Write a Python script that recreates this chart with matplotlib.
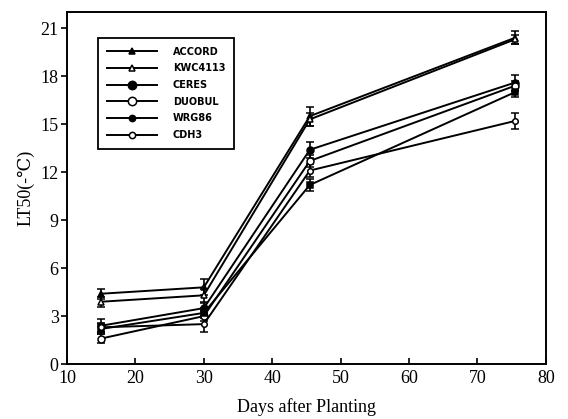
import matplotlib
matplotlib.use('Agg')
import matplotlib.pyplot as plt
from matplotlib.lines import Line2D

# days after planting
days = [15, 30, 45.5, 75.5]

# LT50 values per cultivar
accord = [4.4, 4.8, 15.5, 20.4]
kwc4113 = [3.9, 4.3, 15.3, 20.3]
ceres = [2.4, 3.5, 13.4, 17.6]
duobul = [1.6, 3.0, 12.7, 17.4]
wrg86 = [2.2, 3.2, 11.2, 17.0]
cdh3 = [2.3, 2.5, 12.1, 15.2]

# standard errors
err_accord = [0.3, 0.5, 0.6, 0.4]
err_kwc4113 = [0.3, 0.4, 0.4, 0.3]
err_ceres = [0.4, 0.3, 0.5, 0.5]
err_duobul = [0.3, 0.3, 0.4, 0.3]
err_wrg86 = [0.3, 0.3, 0.4, 0.3]
err_cdh3 = [0.3, 0.5, 0.4, 0.5]

names = ['ACCORD', 'KWC4113', 'CERES', 'DUOBUL', 'WRG86', 'CDH3']

plt.rcParams['font.family'] = ['Liberation Serif', 'DejaVu Serif', 'DejaVu Sans']

fig = plt.figure(figsize=(5.68, 4.19), dpi=100)
ax = fig.add_axes([0.118, 0.131, 0.843, 0.84])

series = [
    (accord, err_accord, '^', 5, 'black'),
    (kwc4113, err_kwc4113, '^', 5, 'white'),
    (ceres, err_ceres, 'o', 5, 'black'),
    (duobul, err_duobul, 'o', 5, 'white'),
    (wrg86, err_wrg86, 's', 4, 'black'),
    (cdh3, err_cdh3, 'o', 4, 'white'),
]

handles = []
for (vals, errs, mk, ms, fc), name in zip(series, names):
    ax.errorbar(days, vals, yerr=errs, color='black', lw=1.4, marker=mk,
                ms=ms, mfc=fc, mec='black', mew=1.1, capsize=3,
                elinewidth=1.2, capthick=1.2)
    # legend keys have no error bars
    lg_mk = 'o' if mk == 's' else mk
    lg_ms = {'^': 5, 'o': 6}[mk] if ms > 4 else 4.5
    handles.append(Line2D([], [], color='black', lw=1.4, marker=lg_mk, ms=lg_ms,
                          mfc=fc, mec='black', mew=1.1, label=name))

ax.set_xlim(10, 80)
ax.set_ylim(0, 22)
ax.set_xticks(range(10, 81, 10))
ax.set_yticks(range(0, 22, 3))
ax.tick_params(axis='x', direction='in', length=4, width=1.2, labelsize=13, pad=4)
ax.tick_params(axis='y', direction='out', length=4, width=1.2, labelsize=13, pad=2)
for sp in ax.spines.values():
    sp.set_linewidth(1.4)

ax.set_xlabel('Days after Planting', fontsize=13, labelpad=8)
ax.set_ylabel('LT50(-\u2103)', fontsize=13, labelpad=4)

leg = ax.legend(handles=handles, loc='upper left', bbox_to_anchor=(0.1725, 0.909),
                bbox_transform=fig.transFigure, borderaxespad=0,
                prop={'family': 'DejaVu Sans', 'weight': 'bold', 'size': 7},
                handlelength=5.2, labelspacing=0.68, fancybox=False,
                edgecolor='black', framealpha=1, borderpad=0.9,
                handletextpad=1.6)
leg.get_frame().set_linewidth(1.3)

plt.savefig('out.png', dpi=100)
